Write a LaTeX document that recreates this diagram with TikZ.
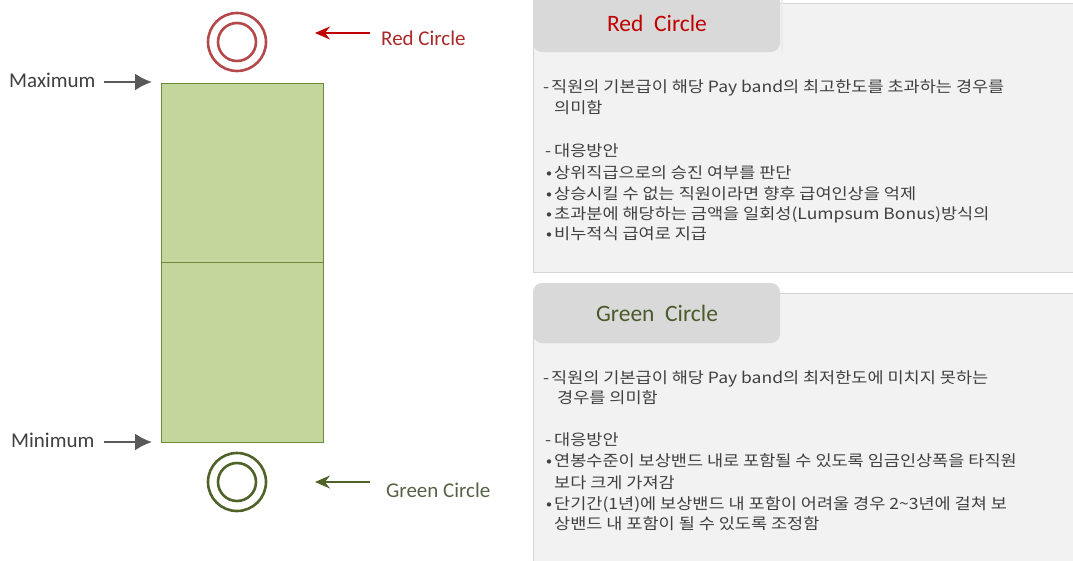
\documentclass[tikz,border=0pt]{standalone}
\usepackage{fontspec}
\setmainfont{Carlito}
\newfontfamily\krfont[FakeStretch=1.13]{Noto Sans CJK KR}
\usetikzlibrary{arrows.meta}
\definecolor{bandfill}{HTML}{C3D69B}
\definecolor{bandline}{HTML}{6E8A3A}
\definecolor{redring}{HTML}{B5484A}
\definecolor{redtext}{HTML}{A82A2A}
\definecolor{redtitle}{HTML}{C00000}
\definecolor{greenring}{HTML}{4F6228}
\definecolor{greentext}{HTML}{566246}
\definecolor{greentitle}{HTML}{4A5A2A}
\definecolor{darkgray}{HTML}{595959}
\definecolor{labelgray}{HTML}{404040}
\definecolor{panelbg}{HTML}{F2F2F2}
\definecolor{panelline}{HTML}{D4D4D4}
\definecolor{tabbg}{HTML}{D9D9D9}
\definecolor{bodytext}{HTML}{404040}
\newcommand\bulmark{\makebox[8pt][l]{•}}
\newcommand\dashmark[1]{\makebox[#1][l]{-}}
\begin{document}
\begin{tikzpicture}[x=1pt,y=-1pt,
  bandbox/.style={draw=bandline, line width=0.8pt, fill=bandfill, minimum width=162pt, minimum height=179.5pt, inner sep=0pt, outer sep=0pt, anchor=north west},
  ring/.style={circle, line width=2.6pt, inner sep=0pt, outer sep=0pt},
  sidelabel/.style={font=\fontsize{21}{24}\selectfont, text=labelgray, inner sep=0pt, anchor=base west},
  grayarrow/.style={draw=darkgray, line width=2.2pt, -{Latex[length=17pt,width=17pt]}},
  thinarrow/.style={line width=1.5pt, -{Stealth[length=15pt,width=13pt,inset=5pt]}},
  body/.style={font=\krfont\fontsize{15.5}{18}\selectfont, text=bodytext, inner sep=0pt, anchor=base west},
  paneltitle/.style={font=\fontsize{23.5}{26}\selectfont, inner sep=0pt}
]
\useasboundingbox (0,0) rectangle (1073,560);
\fill[white] (0,0) rectangle (1073,560);

% ---- pay band ----
\node[bandbox] (upper) at (161.5,83) {};
\node[bandbox] (lower) at (161.5,262.5) {};

% ---- red circle ----
\node[ring, draw=redring, minimum size=58pt] (redouter) at (237,42) {};
\node[ring, draw=redring, minimum size=38pt] (redinner) at (237,42) {};
\node[font=\fontsize{21}{24}\selectfont, text=redtext, inner sep=0pt, anchor=base west] (redlbl) at (381,45) {Red Circle};
\coordinate (redtail) at (370,33);
\coordinate (redtip) at (315,33);
\draw[thinarrow, draw=redtitle, fill=redtitle] (redtail) -- (redtip);

% ---- green circle ----
\node[ring, draw=greenring, minimum size=58pt] (greenouter) at (237,482) {};
\node[ring, draw=greenring, minimum size=38pt] (greeninner) at (237,482) {};
\node[font=\fontsize{21}{24}\selectfont, text=greentext, inner sep=0pt, anchor=base west] (greenlbl) at (386,497) {Green Circle};
\coordinate (greentail) at (370,482);
\coordinate (greentip) at (315,482);
\draw[thinarrow, draw=greenring, fill=greenring] (greentail) -- (greentip);

% ---- maximum / minimum ----
\node[sidelabel] (maxlbl) at (9,87) {Maximum};
\node[sidelabel] (minlbl) at (11,447) {Minimum};
\coordinate (maxtail) at (104,82);
\coordinate (maxtip) at (152,82);
\coordinate (mintail) at (104,442);
\coordinate (mintip) at (152,442);
\draw[grayarrow] (maxtail) -- (maxtip);
\draw[grayarrow] (mintail) -- (mintip);

% ---- red panel ----
\fill[panelbg] (533.5,3.5) rectangle (1080,272.5);
\draw[panelline, line width=1pt] (1080,3.5) -- (533.5,3.5) -- (533.5,272.5) -- (1080,272.5);
\fill[black!8] (781,0) rectangle (782.5,52);
\fill[tabbg, rounded corners=9pt] (533,-15) rectangle (780,52);
\node[paneltitle, text=redtitle] (redtitle) at (657,23) {Red\ \ Circle};
\node[body] (r1) at (543,92) {\dashmark{8pt}직원의 기본급이 해당 Pay band의 최고한도를 초과하는 경우를};
\node[body] (r2) at (554,113) {의미함};
\node[body] (r3) at (545,156) {\dashmark{9pt}대응방안};
\node[body] (r4) at (546,178) {\bulmark 상위직급으로의 승진 여부를 판단};
\node[body] (r5) at (546,199) {\bulmark 상승시킬 수 없는 직원이라면 향후 급여인상을 억제};
\node[body] (r6) at (546,219) {\bulmark 초과분에 해당하는 금액을 일회성(Lumpsum Bonus)방식의};
\node[body] (r7) at (546,239) {\bulmark 비누적식 급여로 지급};

% ---- green panel ----
\fill[panelbg] (533.5,293) rectangle (1080,580);
\draw[panelline, line width=1pt] (1080,293) -- (533.5,293) -- (533.5,580);
\fill[tabbg, rounded corners=9pt] (533,283) rectangle (780,343);
\node[paneltitle, text=greentitle] (greentitle) at (657,313) {Green\ \ Circle};
\node[body] (g1) at (543,383) {\dashmark{8pt}직원의 기본급이 해당 Pay band의 최저한도에 미치지 못하는};
\node[body] (g2) at (557,403) {경우를 의미함};
\node[body] (g3) at (545,445) {\dashmark{9pt}대응방안};
\node[body] (g4) at (546,466) {\bulmark 연봉수준이 보상밴드 내로 포함될 수 있도록 임금인상폭을 타직원};
\node[body] (g5) at (554,488) {보다 크게 가져감};
\node[body] (g6) at (546,509) {\bulmark 단기간(1년)에 보상밴드 내 포함이 어려울 경우 2\textasciitilde3년에 걸쳐 보};
\node[body] (g7) at (554,529) {상밴드 내 포함이 될 수 있도록 조정함};
\end{tikzpicture}
\end{document}
